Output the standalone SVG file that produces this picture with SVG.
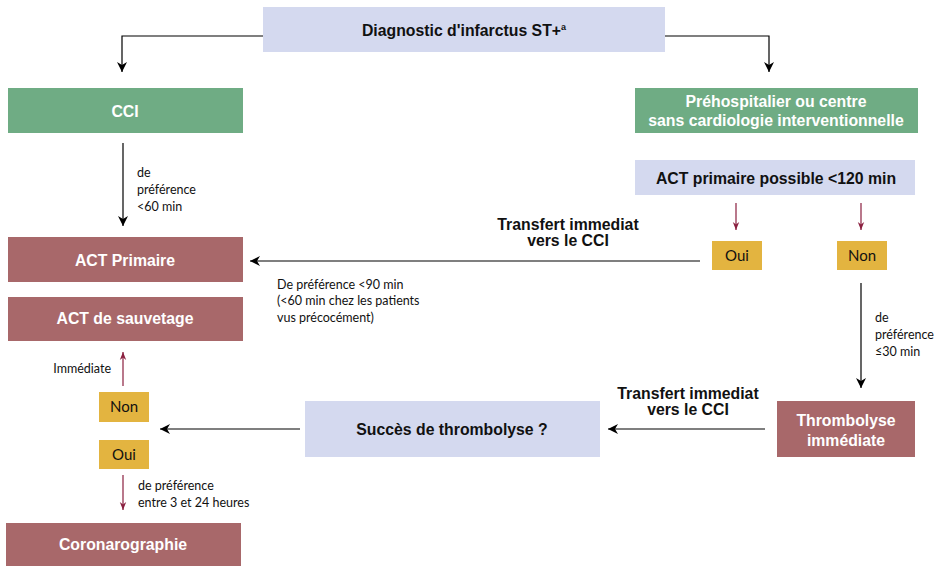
<svg xmlns="http://www.w3.org/2000/svg" width="934" height="566" viewBox="0 0 934 566">
  <defs>
    <marker id="ah" viewBox="0 0 10 10" refX="10" refY="5" markerWidth="10" markerHeight="10" markerUnits="userSpaceOnUse" orient="auto">
      <path d="M0,0 L10,5 L0,10 L3,5 Z" fill="#000"/>
    </marker>
    <marker id="ahr" viewBox="0 0 10 10" refX="10" refY="5" markerWidth="8" markerHeight="8" markerUnits="userSpaceOnUse" orient="auto">
      <path d="M0,1 L10,5 L0,9 L3,5 Z" fill="#8a1f3f"/>
    </marker>
  </defs>
  <style>
    .blue { fill: #d4d9ef; }
    .green { fill: #6fac84; }
    .red { fill: #a8686a; }
    .yel { fill: #e3b440; }
    text { font-family: Lato, "Liberation Sans", sans-serif; }
    .tb, .tw { font-family: "Liberation Sans", Arial, sans-serif; font-size: 15.8px; font-weight: bold; text-anchor: middle; }
    .tb { fill: #111; }
    .tw { fill: #fff; }
    .ty { font-size: 15px; fill: #111; text-anchor: middle; }
    .tl { font-size: 12.5px; fill: #111; }
    .ln { stroke: #000; stroke-width: 1.2; fill: none; }
    .lr { stroke: #8a1f3f; stroke-width: 1.2; fill: none; }
  </style>

  <!-- connectors -->
  <g id="connectors">
    <path class="ln" d="M263,36 H122 V72" marker-end="url(#ah)"/>
    <path class="ln" d="M665,36 H769 V72" marker-end="url(#ah)"/>
    <path class="ln" d="M123,143 V226" marker-end="url(#ah)"/>
    <path class="lr" d="M736,203 V230" marker-end="url(#ahr)"/>
    <path class="lr" d="M861,203 V230" marker-end="url(#ahr)"/>
    <path class="ln" d="M700,261 H250" marker-end="url(#ah)"/>
    <path class="ln" d="M861,283 V388" marker-end="url(#ah)"/>
    <path class="ln" d="M765,429 H608" marker-end="url(#ah)"/>
    <path class="ln" d="M300,429 H160" marker-end="url(#ah)"/>
    <path class="lr" d="M123,386 V352" marker-end="url(#ahr)"/>
    <path class="lr" d="M123,475 V510" marker-end="url(#ahr)"/>

    <text class="tl" x="137" y="177">de</text>
    <text class="tl" x="137" y="194">préférence</text>
    <text class="tl" x="137" y="211">&lt;60 min</text>

    <text class="tb" x="568" y="230">Transfert immediat</text>
    <text class="tb" x="568" y="246">vers le CCI</text>

    <text class="tl" x="277" y="289">De préférence &lt;90 min</text>
    <text class="tl" x="277" y="305">(&lt;60 min chez les patients</text>
    <text class="tl" x="277" y="322">vus précocément)</text>

    <text class="tl" x="875" y="322">de</text>
    <text class="tl" x="875" y="339">préférence</text>
    <text class="tl" x="875" y="356">≤30 min</text>

    <text class="tb" x="688" y="399">Transfert immediat</text>
    <text class="tb" x="688" y="415">vers le CCI</text>

    <text class="tl" x="111" y="373" text-anchor="end">Immédiate</text>

    <text class="tl" x="138" y="490">de préférence</text>
    <text class="tl" x="138" y="507">entre 3 et 24 heures</text>
  </g>

  <!-- nodes -->
  <g id="diagnostic">
    <rect class="blue" x="263" y="7" width="402" height="45"/>
    <text class="tb" x="464" y="36">Diagnostic d'infarctus ST+<tspan font-size="9" dy="-6">a</tspan></text>
  </g>
  <g id="cci">
    <rect class="green" x="8" y="88" width="235" height="45"/>
    <text class="tw" x="125" y="117">CCI</text>
  </g>
  <g id="prehospitalier">
    <rect class="green" x="635" y="88" width="283" height="45"/>
    <text class="tw" x="776" y="107">Préhospitalier ou centre</text>
    <text class="tw" x="776" y="126">sans cardiologie interventionnelle</text>
  </g>
  <g id="act-possible">
    <rect class="blue" x="635" y="160" width="280" height="35"/>
    <text class="tb" x="776" y="184">ACT primaire possible &lt;120 min</text>
  </g>
  <g id="oui-1">
    <rect class="yel" x="712" y="241" width="50" height="29"/>
    <text class="ty" x="737" y="261">Oui</text>
  </g>
  <g id="non-1">
    <rect class="yel" x="837" y="241" width="50" height="29"/>
    <text class="ty" x="862" y="261">Non</text>
  </g>
  <g id="act-primaire">
    <rect class="red" x="8" y="237" width="235" height="45"/>
    <text class="tw" x="125" y="266">ACT Primaire</text>
  </g>
  <g id="act-sauvetage">
    <rect class="red" x="8" y="297" width="235" height="44"/>
    <text class="tw" x="125" y="324">ACT de sauvetage</text>
  </g>
  <g id="thrombolyse">
    <rect class="red" x="777" y="401" width="138" height="56"/>
    <text class="tw" x="846" y="426">Thrombolyse</text>
    <text class="tw" x="846" y="446">immédiate</text>
  </g>
  <g id="succes">
    <rect class="blue" x="305" y="401" width="295" height="56"/>
    <text class="tb" x="452" y="435">Succès de thrombolyse ?</text>
  </g>
  <g id="non-2">
    <rect class="yel" x="99" y="392" width="50" height="30"/>
    <text class="ty" x="124" y="412">Non</text>
  </g>
  <g id="oui-2">
    <rect class="yel" x="99" y="440" width="50" height="29"/>
    <text class="ty" x="124" y="460">Oui</text>
  </g>
  <g id="coronarographie">
    <rect class="red" x="6" y="523" width="235" height="43"/>
    <text class="tw" x="123" y="550">Coronarographie</text>
  </g>
</svg>
